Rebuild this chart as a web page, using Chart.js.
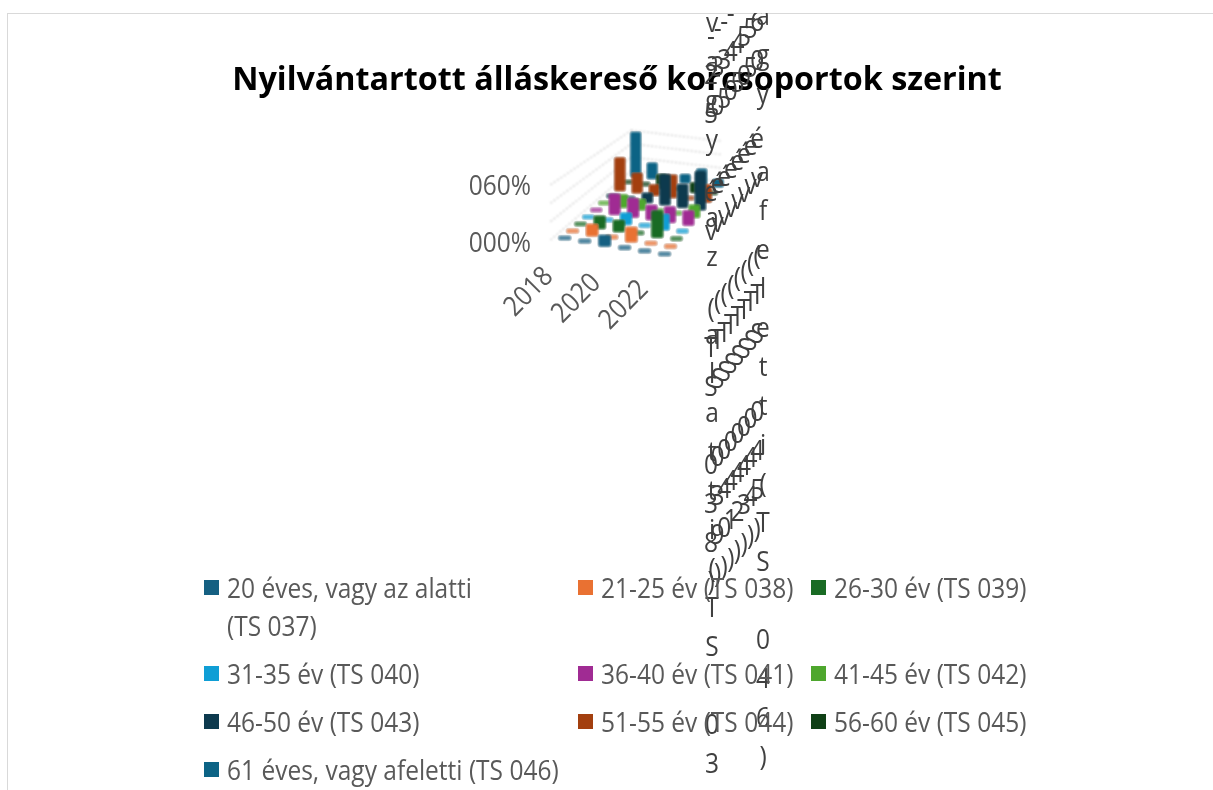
<!DOCTYPE html>
<html lang="hu">
<head>
<meta charset="utf-8">
<title>Nyilvántartott álláskereső korcsoportok szerint</title>
<script src="https://cdn.jsdelivr.net/npm/chart.js@4"></script>
<style>
  html, body { margin: 0; background: #fff; overflow: hidden; }
  #wrap { position: relative; width: 1213px; height: 790px; overflow: hidden; }
  #frame { position: absolute; left: 7px; top: 13px; width: 1300px; height: 900px; border: 1px solid #d9d9d9; }
  canvas { position: absolute; left: 0; top: 0; }
  #legend {
    position: absolute; left: 204px; top: 569px;
    display: grid; grid-template-columns: 374px 233px 240px; row-gap: 10px;
    font: 24.5px/38px "Open Sans", "Noto Sans", sans-serif; color: #595959;
  }
  .item { display: flex; align-items: flex-start; }
  .item i { flex: none; width: 15px; height: 15px; margin: 11px 8px 0 0; filter: blur(0.4px); }
  .item span { display: inline-block; transform: scaleY(1.13); filter: blur(0.3px); white-space: nowrap; }
  .item:first-child span { white-space: normal; width: 270px; line-height: 33.6px; margin: 4.4px 0; }
</style>
</head>
<body>
<div id="wrap">
  <div id="frame"></div>
  <canvas id="chart" width="1213" height="790"></canvas>
  <div id="legend"></div>
</div>
<script>
// ── data ──
const chartTitle = 'Nyilvántartott álláskereső korcsoportok szerint';
const years = ['2018', '2019', '2020', '2021', '2022', '2023'];
const yearTicks = ['2018', '2020', '2022'];
const valueTicks = ['000%', '060%'];
const gridLevels = [0, 0.2, 0.4, 0.6];

const seriesNames = [
  '20 éves, vagy az alatti (TS 037)', '21-25 év (TS 038)', '26-30 év (TS 039)',
  '31-35 év (TS 040)', '36-40 év (TS 041)', '41-45 év (TS 042)',
  '46-50 év (TS 043)', '51-55 év (TS 044)', '56-60 év (TS 045)',
  '61 éves, vagy afeletti (TS 046)'
];
const seriesColors = [
  '#156082', '#e97132', '#196b24', '#0f9ed5', '#a02b93',
  '#4ea72e', '#0d3a4e', '#a33f0f', '#0f4016', '#0c6385'
];

const ts037 = [0, 0, 0.08, 0, 0, 0];
const ts038 = [0, 0.09, 0, 0.125, 0, 0];
const ts039 = [0, 0.105, 0.09, 0, 0.27, 0];
const ts040 = [0, 0, 0.095, 0, 0.145, 0];
const ts041 = [0, 0.21, 0.185, 0.135, 0.15, 0.135];
const ts042 = [0, 0.115, 0.09, 0, 0, 0.115];
const ts043 = [0, 0, 0.08, 0.355, 0.26, 0.46];
const ts044 = [0.4, 0.22, 0.095, 0.26, 0, 0.19];
const ts045 = [0, 0, 0.14, 0, 0.085, 0];
const ts046 = [0.6, 0.18, 0, 0.07, 0.18, 0.06];
const seriesValues = [ts037, ts038, ts039, ts040, ts041, ts042, ts043, ts044, ts045, ts046];

// the depth-axis labels wrap one character per line in the original
const depthLabels = [
  '20 éves, vagy az alatti(TS 037)', ...seriesNames.slice(1, 9), '61 éves, vagy afeletti(TS 046)'
];

// ── oblique projection of the 3-D plot into the (hidden) x/y scales ──
const project = (depth, year, value) => ({
  x: 556 + year * (23.3 - 0.45 * depth) + 9.2 * depth,
  y: 238 + year * (3.2 - 0.13 * depth) - 7 * depth - value * (90.75 - 2.5 * depth)
});

const barSets = seriesValues.map((vals, d) => ({
  type: 'bar',
  label: seriesNames[d],
  data: vals.map((v, j) => {
    const base = project(d, j, 0), top = project(d, j, v);
    return { x: base.x, y: [base.y + 3, top.y - 3], v };
  }),
  backgroundColor: c => seriesColors[d] + (c.raw && c.raw.v === 0 ? 'c0' : 'ff'),
  borderColor: 'rgba(170,170,170,0.45)',
  borderWidth: 1,
  borderSkipped: false,
  borderRadius: 3,
  barThickness: 14 - 0.2 * d,
  grouped: false,
  order: 0,
  clip: false
}));

const gridSet = pts => ({
  type: 'line', data: pts, borderColor: '#b4b4b4', borderWidth: 1.2,
  borderDash: [1.5, 2.5], pointRadius: 0, tension: 0, order: 1, clip: false
});
const gridSets = gridLevels.flatMap(l => [
  gridSet([project(-0.5, -0.5, l), project(9.5, -0.5, l)]),
  gridSet([project(9.5, -0.5, l), project(9.5, 5, l)])
]);

// ── text that has no home in the hidden axes ──
function stretched(ctx, text, x, y, angle) {
  ctx.save();
  ctx.translate(x, y);
  if (angle) ctx.rotate(angle);
  ctx.scale(1, 1.13);
  ctx.fillText(text, 0, 0);
  ctx.restore();
}

const axisText = {
  id: 'axisText',
  beforeDatasetsDraw(chart) { chart.ctx.save(); chart.ctx.filter = 'blur(0.9px)'; },
  afterDatasetsDraw(chart) {
    const ctx = chart.ctx;
    ctx.restore();
    ctx.save();
    ctx.filter = 'blur(0.3px)';
    ctx.font = '24.5px "Open Sans", "Noto Sans", sans-serif';
    ctx.fillStyle = '#595959';
    ctx.textAlign = 'right';
    ctx.textBaseline = 'middle';
    stretched(ctx, valueTicks[0], 531, 244);
    stretched(ctx, valueTicks[1], 531, 187);

    ctx.textAlign = 'center';
    yearTicks.forEach((t, k) => {
      stretched(ctx, t, 529 + k * 47.5, 292 + k * 6.5, -Math.PI / 4);
    });

    ctx.beginPath();
    ctx.rect(8, 13, 1205, 777);
    ctx.clip();
    ctx.fillStyle = '#404040';
    depthLabels.forEach((label, d) => {
      const x = d === 0 ? 712 : d === 9 ? 763 : 711 + (d - 1) * 6.6;
      const endY = d === 0 ? 843 : d === 9 ? 758 : 583 - (d - 1) * 7.6;
      const chars = [...label];
      chars.forEach((ch, k) => {
        stretched(ctx, ch, x, endY - (chars.length - 1 - k) * 39);
      });
    });
    ctx.restore();
  }
};

new Chart(document.getElementById('chart'), {
  data: { datasets: [...barSets, ...gridSets] },
  plugins: [axisText],
  options: {
    responsive: false,
    animation: false,
    layout: { padding: { left: 21 } },
    plugins: {
      legend: { display: false },
      tooltip: { enabled: false },
      title: {
        display: true,
        text: chartTitle,
        fullSize: false,
        color: '#000',
        font: { family: '"Open Sans", "Noto Sans", sans-serif', size: 32.3, weight: 'bold', lineHeight: 1 },
        padding: { top: 64.7, bottom: 3 }
      }
    },
    scales: {
      x: { type: 'linear', display: false, min: 21, max: 1213 },
      y: { type: 'linear', display: false, min: 100, max: 790, reverse: true }
    }
  }
});

// ── legend ──
const legend = document.getElementById('legend');
seriesNames.forEach((name, d) => {
  const item = document.createElement('div');
  item.className = 'item';
  const swatch = document.createElement('i');
  swatch.style.background = seriesColors[d];
  const text = document.createElement('span');
  text.textContent = name;
  item.appendChild(swatch);
  item.appendChild(text);
  legend.appendChild(item);
});
</script>
</body>
</html>
